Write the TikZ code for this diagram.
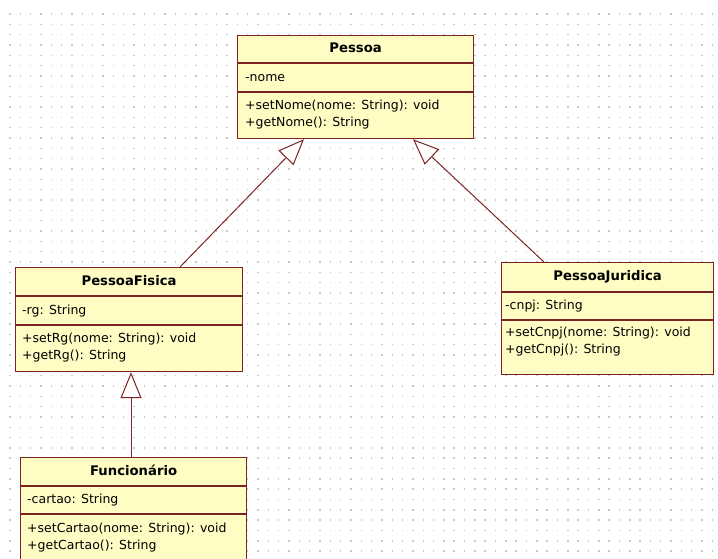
\documentclass[tikz,border=0pt]{standalone}
\usepackage{fontspec}
\setmainfont{DejaVu Sans}
\usetikzlibrary{arrows.meta,positioning}

\definecolor{classfill}{RGB}{255,252,196}
\definecolor{classline}{RGB}{125,35,35}
\definecolor{griddot}{RGB}{200,200,200}

\tikzset{
  classbox/.style={draw=classline, fill=classfill, line width=1.2pt,
    anchor=north west, inner sep=0pt},
  classname/.style={font=\bfseries\fontsize{13.2}{16}\selectfont, inner sep=0pt,
    text height=10pt, text depth=3pt},
  member/.style={font=\fontsize{12.5}{16}\selectfont, anchor=west, inner sep=0pt,
    text height=10pt, text depth=3pt},
  divider/.style={draw=classline, line width=1.2pt},
  generalization/.style={draw=classline, line width=1pt,
    -{Triangle[open, length=26pt, width=21pt, fill=white]}},
}

\begin{document}
\begin{tikzpicture}[x=1pt,y=-1pt]
    \useasboundingbox (0,0) rectangle (718,558);
    \clip (0,0) rectangle (718,558);
    \fill[white] (0,0) rectangle (718,558);

    % dotted background grid
    \foreach \i in {0,...,68}
      \foreach \j in {0,...,53}
        \fill[griddot] ({9.3+\i*10.33},{13.3+\j*10.33}) rectangle +(1.4,1.4);

    % Pessoa
    \node[classbox, minimum width=236pt, minimum height=103pt] (pessoa) at (237,35) {};
    \draw[divider] (pessoa.west |- 0,63) -- (pessoa.east |- 0,63);
    \draw[divider] (pessoa.west |- 0,92) -- (pessoa.east |- 0,92);
    \node[classname] (pessoa-name) at (pessoa.north |- 0,49) {Pessoa};
    \node[member] (pessoa-nome) at (245,78) {-nome};
    \node[member] (pessoa-set) at (245,106) {+setNome(nome: String): void};
    \node[member] (pessoa-get) at (245,123) {+getNome(): String};

    % PessoaFisica
    \node[classbox, minimum width=227pt, minimum height=104pt] (pf) at (15,267) {};
    \draw[divider] (pf.west |- 0,296) -- (pf.east |- 0,296);
    \draw[divider] (pf.west |- 0,325) -- (pf.east |- 0,325);
    \node[classname] (pf-name) at (pf.north |- 0,282) {PessoaFisica};
    \node[member] (pf-rg) at (22,311) {-rg: String};
    \node[member] (pf-set) at (22,339) {+setRg(nome: String): void};
    \node[member] (pf-get) at (22,356) {+getRg(): String};

    % PessoaJuridica
    \node[classbox, minimum width=212pt, minimum height=112pt] (pj) at (501,262) {};
    \draw[divider] (pj.west |- 0,292) -- (pj.east |- 0,292);
    \draw[divider] (pj.west |- 0,320) -- (pj.east |- 0,320);
    \node[classname] (pj-name) at (pj.north |- 0,277) {PessoaJuridica};
    \node[member] (pj-cnpj) at (505,306) {-cnpj: String};
    \node[member] (pj-set) at (505,333) {+setCnpj(nome: String): void};
    \node[member] (pj-get) at (505,350) {+getCnpj(): String};

    % Funcionario
    \node[classbox, minimum width=226pt, minimum height=130pt] (func) at (20,457) {};
    \draw[divider] (func.west |- 0,486) -- (func.east |- 0,486);
    \draw[divider] (func.west |- 0,514) -- (func.east |- 0,514);
    \node[classname] (func-name) at (func.north |- 0,472) {Funcionário};
    \node[member] (func-cartao) at (27,500) {-cartao: String};
    \node[member] (func-set) at (27,529) {+setCartao(nome: String): void};
    \node[member] (func-get) at (27,546) {+getCartao(): String};

    % inheritance
    \draw[generalization] ([xshift=165pt]pf.north west) -- ([xshift=67pt]pessoa.south west);
    \draw[generalization] ([xshift=43pt]pj.north west) -- ([xshift=176pt]pessoa.south west);
    \draw[generalization] ([xshift=111pt]func.north west) -- ([xshift=116pt]pf.south west);
\end{tikzpicture}
\end{document}
